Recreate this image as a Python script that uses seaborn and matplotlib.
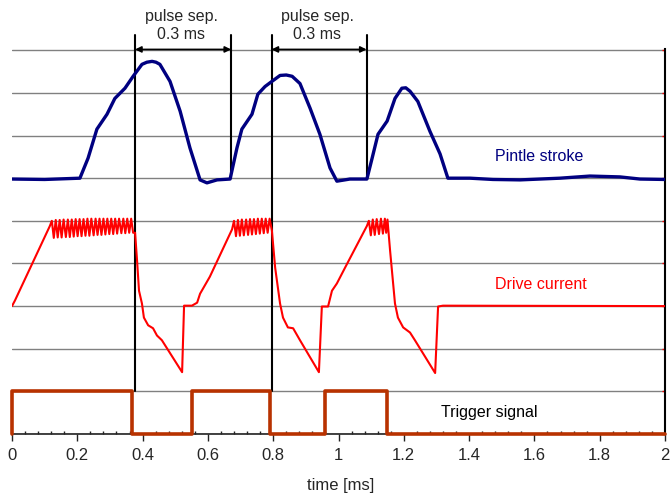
import matplotlib
matplotlib.use("Agg")
import matplotlib.pyplot as plt
import seaborn as sns
import numpy as np

# time axis in ms, signals in grid units (one grid row = 1)
pintle_t = [0, 0.10, 0.208, 0.233, 0.260, 0.291, 0.315, 0.346, 0.371, 0.398, 0.413,
            0.429, 0.441, 0.453, 0.484, 0.515, 0.545, 0.576, 0.597, 0.628, 0.668,
            0.689, 0.704, 0.735, 0.753, 0.775, 0.796, 0.821, 0.840, 0.858, 0.882,
            0.913, 0.943, 0.974, 0.995, 1.035, 1.087, 1.103, 1.121, 1.149, 1.173,
            1.194, 1.206, 1.219, 1.243, 1.280, 1.311, 1.335, 1.372, 1.403, 1.473,
            1.556, 1.678, 1.770, 1.862, 1.923, 2.0]
pintle_y = [5.98, 5.97, 6.00, 6.47, 7.15, 7.50, 7.87, 8.11, 8.39, 8.67, 8.72,
            8.74, 8.72, 8.67, 8.27, 7.57, 6.71, 5.96, 5.89, 5.96, 5.98,
            6.71, 7.15, 7.50, 7.97, 8.15, 8.27, 8.41, 8.42, 8.39, 8.22,
            7.64, 7.03, 6.24, 5.93, 5.98, 5.98, 6.47, 7.03, 7.34, 7.87,
            8.11, 8.12, 8.04, 7.80, 7.10, 6.57, 6.00, 6.00, 6.00, 5.97,
            5.96, 6.00, 6.05, 6.03, 5.98, 5.97]

drive_t = [0, 0.009, 0.116,
           # pulse 1 chopping
           0.122, 0.128, 0.134, 0.140, 0.146, 0.152, 0.158, 0.165, 0.171, 0.177,
           0.183, 0.189, 0.195, 0.201, 0.207, 0.213, 0.219, 0.225, 0.231, 0.237,
           0.243, 0.250, 0.256, 0.262, 0.268, 0.274, 0.280, 0.286, 0.292, 0.298,
           0.304, 0.310, 0.316, 0.322, 0.328, 0.335, 0.341, 0.347, 0.353, 0.359,
           0.365, 0.371,
           # turn-off 1
           0.377, 0.383, 0.389, 0.398, 0.404, 0.417, 0.432, 0.444, 0.459, 0.521,
           0.527, 0.551, 0.567, 0.576, 0.606, 0.674,
           # pulse 2 chopping
           0.680, 0.686, 0.692, 0.698, 0.704, 0.710, 0.717, 0.723, 0.729, 0.735,
           0.741, 0.747, 0.753, 0.759, 0.765, 0.771, 0.777, 0.783, 0.789,
           # turn-off 2
           0.796, 0.806, 0.821, 0.830, 0.845, 0.861, 0.882, 0.940, 0.949, 0.968,
           0.980, 0.995, 1.020, 1.087,
           # pulse 3 chopping
           1.093, 1.099, 1.105, 1.111, 1.117, 1.124, 1.130, 1.136, 1.142, 1.146,
           1.150,
           # turn-off 3
           1.158, 1.173, 1.182, 1.198, 1.219, 1.234, 1.296, 1.305, 1.320, 2.0]
drive_y = [3.00, 3.13, 4.88,
           5.00, 4.60, 5.02, 4.61, 5.02, 4.61, 5.03, 4.62, 5.03, 4.62,
           5.03, 4.63, 5.04, 4.64, 5.04, 4.64, 5.04, 4.65, 5.05, 4.65,
           5.05, 4.66, 5.05, 4.67, 5.05, 4.67, 5.05, 4.68, 5.05, 4.69,
           5.05, 4.69, 5.05, 4.70, 5.05, 4.71, 5.05, 4.71, 5.05, 4.72,
           5.05, 4.72,
           4.72, 4.07, 3.36, 3.06, 2.73, 2.55, 2.48, 2.31, 2.20, 1.45,
           3.01, 3.01, 3.08, 3.29, 3.69, 4.80,
           5.00, 4.64, 5.02, 4.65, 5.03, 4.66, 5.03, 4.67, 5.04, 4.68,
           5.04, 4.69, 5.05, 4.70, 5.05, 4.71, 5.05, 4.72, 5.05,
           4.77, 3.90, 3.06, 2.73, 2.50, 2.48, 2.20, 1.45, 2.99, 2.99,
           3.36, 3.53, 3.90, 4.88,
           5.00, 4.66, 5.03, 4.67, 5.04, 4.69, 5.05, 4.70, 5.05, 4.72,
           5.03,
           4.30, 3.06, 2.73, 2.50, 2.38, 2.20, 1.43, 2.99, 3.01, 3.00]

trigger_t = [0, 0, 0.368, 0.368, 0.551, 0.551, 0.790, 0.790, 0.959, 0.959, 1.148, 1.148, 2.0]
trigger_y = [0, 1, 1, 0, 0, 1, 1, 0, 0, 1, 1, 0, 0]

# pulse separation markers: (start, end) in ms, vertical line bottoms
sep_pairs = [(0.377, 0.671), (0.795, 1.086)]
sep_bottoms = [(1.0, 6.0), (1.0, 6.0)]
sep_label = "pulse sep.\n0.3 ms"

xticks = [0, 0.2, 0.4, 0.6, 0.8, 1.0, 1.2, 1.4, 1.6, 1.8, 2.0]
xtick_labels = ["0", "0.2", "0.4", "0.6", "0.8", "1", "1.2", "1.4", "1.6", "1.8", "2"]

sns.set_style("white")
plt.rcParams["font.family"] = ["Liberation Sans", "DejaVu Sans"]

fig = plt.figure(figsize=(6.71, 4.94), dpi=100)
ax = fig.add_axes([12 / 671, 60 / 494, 653 / 671, 385 / 494])

sns.lineplot(x=pintle_t, y=pintle_y, sort=False, estimator=None, color="#000080", lw=2.4, ax=ax,
             zorder=4, solid_joinstyle="round", solid_capstyle="round")
sns.lineplot(x=drive_t, y=drive_y, sort=False, estimator=None, color="#FF0000", lw=1.5, ax=ax, zorder=4)
sns.lineplot(x=trigger_t, y=trigger_y, sort=False, estimator=None, color="#B83200", lw=2.6, ax=ax,
             zorder=5, clip_on=False)

top = 9.37
for (a, b), (ba, bb) in zip(sep_pairs, sep_bottoms):
    ax.plot([a, a], [ba, top], color="black", lw=1.5, clip_on=False, zorder=3)
    ax.plot([b, b], [bb, top], color="black", lw=1.5, clip_on=False, zorder=3)
    ax.annotate("", xy=(a, 9.02), xytext=(b, 9.02), annotation_clip=False,
                arrowprops=dict(arrowstyle="<|-|>", color="black", lw=1.2,
                                mutation_scale=9, shrinkA=0, shrinkB=0))
    ax.text((a + b) / 2 - 0.005, 9.58, sep_label, ha="center", va="center", fontsize=11.5,
            linespacing=1.2, clip_on=False)

ax.text(1.614, 6.52, "Pintle stroke", color="#000080", fontsize=11.5, ha="center", va="center")
ax.text(1.620, 3.50, "Drive current", color="#FF0000", fontsize=11.5, ha="center", va="center")
ax.text(1.4625, 0.51, "Trigger signal", color="black", fontsize=11.5, ha="center", va="center")

ax.set_xlim(0, 2)
ax.set_ylim(0, 9.03)
ax.set_xticks(xticks)
ax.set_xticklabels(xtick_labels, fontsize=12)
ax.set_xticks(np.arange(0, 2.001, 0.04), minor=True)
ax.tick_params(axis="x", which="major", direction="out", length=5, width=1, color="#222222",
               pad=5, bottom=True)
ax.tick_params(axis="x", which="minor", direction="in", length=2.2, width=1, color="#222222",
               bottom=True)

ax.set_yticks(range(10))
ax.yaxis.tick_right()
ax.tick_params(axis="y", which="major", direction="in", length=2.5, width=1, color="red",
               labelright=False, right=True, left=False)
ax.yaxis.grid(True, color="#808080", lw=1)
ax.xaxis.grid(False)

for side in ["top", "left"]:
    ax.spines[side].set_visible(False)
ax.spines["right"].set_color("black")
ax.spines["right"].set_linewidth(1.5)
ax.spines["bottom"].set_color("#222222")
ax.spines["bottom"].set_linewidth(1.2)
ax.set_xlabel("")
ax.set_ylabel("")

fig.text(341 / 671, 1 - 485 / 494, "time [ms]", ha="center", va="center", fontsize=12)

fig.savefig("out.png", dpi=100)
